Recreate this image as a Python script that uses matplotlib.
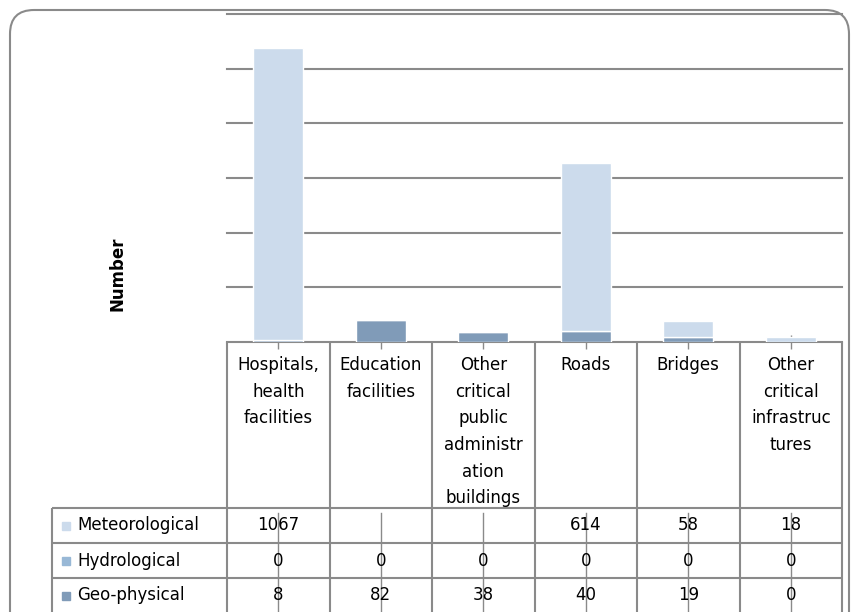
import numpy as np
import matplotlib
matplotlib.use("Agg")
import matplotlib.pyplot as plt
from matplotlib.patches import FancyBboxPatch, Rectangle
from matplotlib.transforms import blended_transform_factory

categories = ["Hospitals,\nhealth\nfacilities", "Education\nfacilities",
              "Other\ncritical\npublic\nadministr\nation\nbuildings", "Roads",
              "Bridges", "Other\ncritical\ninfrastruc\ntures"]
series_names = ["Meteorological", "Hydrological", "Geo-physical"]
meteorological = [1067, None, None, 614, 58, 18]
hydrological = [0, 0, 0, 0, 0, 0]
geophysical = [8, 82, 38, 40, 19, 0]
colors = ["#CCDBEC", "#98B8D6", "#809BB8"]

W, H = 851, 612
GRAY = "#8A8A8A"
FS = 12

plt.rcParams["font.family"] = ["DejaVu Sans"]

fig = plt.figure(figsize=(W / 100, H / 100), dpi=100)

# plot area in pixel terms
left, right, top, bottom = 227, 842, 14, 342
ax = fig.add_axes([left / W, 1 - bottom / H, (right - left) / W, (bottom - top) / H])

x = np.arange(len(categories))
met = np.array([v if v is not None else 0 for v in meteorological], dtype=float)
hyd = np.array(hydrological, dtype=float)
geo = np.array(geophysical, dtype=float)

ax.bar(x, geo, width=0.49, color=colors[2], edgecolor="white", linewidth=1, zorder=3)
ax.bar(x, hyd, width=0.49, bottom=geo, color=colors[1], edgecolor="white", linewidth=0, zorder=3)
ax.bar(x, met, width=0.49, bottom=geo + hyd, color=colors[0], edgecolor="white", linewidth=1, zorder=3)

ax.set_xlim(-0.5, len(categories) - 0.5)
ax.set_ylim(0, 1200)
ax.set_yticks(np.arange(200, 1201, 200))
ax.yaxis.grid(True, color=GRAY, linewidth=1.5, zorder=0)
for gl in ax.get_ygridlines():
    gl.set_clip_on(False)
ax.tick_params(axis="y", length=0, labelleft=False)
ax.set_xticks(x)
ax.tick_params(axis="x", direction="inout", length=10, width=1, color=GRAY, labelbottom=False)
for s in ["top", "left", "right"]:
    ax.spines[s].set_visible(False)
ax.spines["bottom"].set_color(GRAY)
ax.spines["bottom"].set_linewidth(1.5)
ax.set_axisbelow(True)


def ay(ypix):
    # pixel row -> axes y fraction
    return (bottom - ypix) / (bottom - top)


def axx(xpix):
    return (xpix - left) / (right - left)


bt = blended_transform_factory(ax.transData, ax.transAxes)
at = ax.transAxes

table_top = 508
row_h = 35
table_bottom = 620
line_kw = dict(color=GRAY, linewidth=1.5, clip_on=False, solid_capstyle="butt")

# category label cells
for i, lab in enumerate(categories):
    ax.text(i, ay(356), lab, transform=bt, ha="center", va="top",
            fontsize=FS, linespacing=1.62, clip_on=False)
for b in np.arange(-0.5, len(categories), 1.0):
    ax.plot([b, b], [ay(bottom), ay(table_bottom)], transform=bt, **line_kw)

# data table rows
ax.plot([axx(52), 1], [ay(table_top), ay(table_top)], transform=at, **line_kw)
for r in range(1, 3):
    yy = ay(table_top + r * row_h)
    ax.plot([axx(52), 1], [yy, yy], transform=at, **line_kw)
ax.plot([axx(52), axx(52)], [ay(table_top), ay(table_bottom)], transform=at, **line_kw)

rows = [meteorological, hydrological, geophysical]
for r, (name, vals, c) in enumerate(zip(series_names, rows, colors)):
    yc = table_top + r * row_h + row_h / 2
    ax.add_patch(Rectangle((axx(62), ay(yc + 4)), 8 / (right - left), 8 / (bottom - top),
                           transform=at, color=c, clip_on=False))
    ax.text(axx(77), ay(yc), name, transform=at, ha="left", va="center",
            fontsize=FS, clip_on=False)
    for i, v in enumerate(vals):
        if v is not None:
            ax.text(i, ay(yc), str(v), transform=bt, ha="center", va="center",
                    fontsize=FS, clip_on=False)

# tick marks running through the value cells
for i in x:
    ax.plot([i, i], [ay(table_top + 5), ay(table_bottom)], transform=bt,
            color=GRAY, linewidth=1, clip_on=False)

fig.text(117 / W, 1 - 274 / H, "Number", rotation=90, ha="center", va="center",
         fontsize=FS, fontweight="bold")

# rounded chart border
frame = FancyBboxPatch((10, -30), 839, H - 10 + 30,
                       boxstyle="round,pad=0,rounding_size=24",
                       transform=None, facecolor="none", edgecolor=GRAY, linewidth=1.5)
fig.patches.append(frame)

fig.savefig("out.png", dpi=100)
